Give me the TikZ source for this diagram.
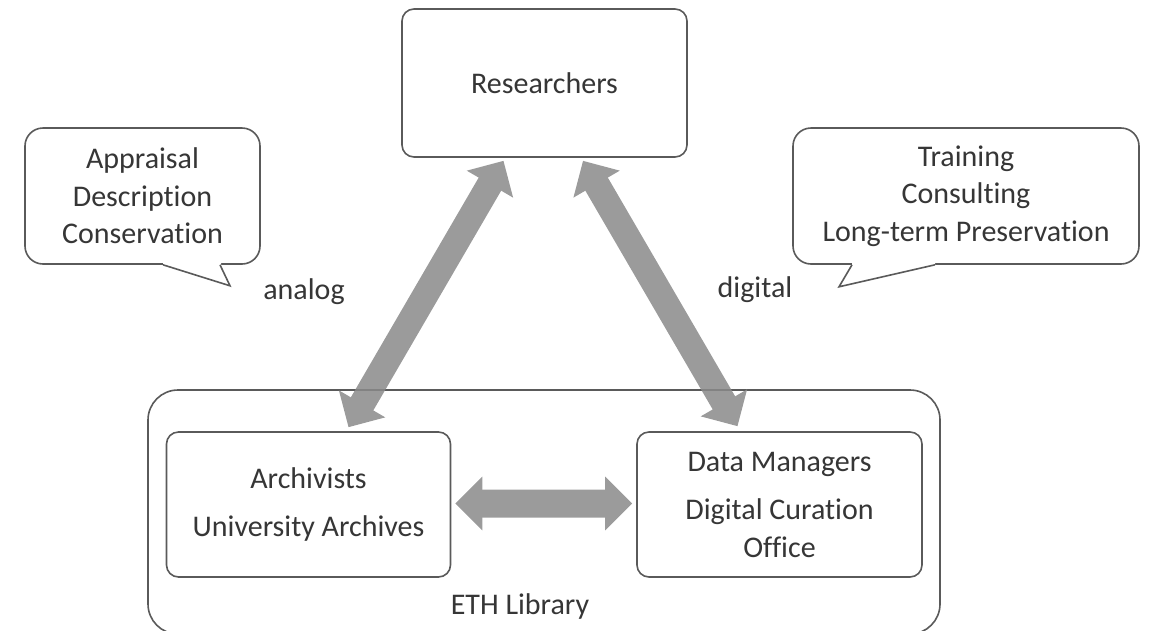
\documentclass[tikz,border=0pt]{standalone}
\usepackage{fontspec}
\setmainfont{Carlito}[Ligatures=NoCommon]
\usetikzlibrary{arrows.meta,calc}
\definecolor{linec}{HTML}{5A5A5A}
\definecolor{txtc}{HTML}{363636}
\definecolor{arrc}{HTML}{8A8A8A}
\tikzset{
  box/.style={draw=linec, line width=1.6pt, rounded corners=12pt, fill=white, align=center,
    text=txtc, font=\fontsize{30}{38}\selectfont, inner sep=0pt},
  bubble/.style={draw=linec, line width=1.6pt, rounded corners=18pt, fill=white, align=center,
    text=txtc, font=\fontsize{30}{37.5}\selectfont, inner sep=0pt},
  lbl/.style={text=txtc, font=\fontsize{30}{38}\selectfont, inner sep=0pt},
  bigarrow/.style={draw=arrc, line width=26pt,
    {Triangle[width=52pt,length=27pt]}-{Triangle[width=52pt,length=27pt]}},
}
\begin{document}
\begin{tikzpicture}[x=1pt,y=-1pt]
\useasboundingbox (0,0) rectangle (1150,630);
% ETH Library frame
\node[draw=linec, line width=1.6pt, rounded corners=30pt, minimum width=792pt, minimum height=244pt, inner sep=0pt] (eth) at (544,512) {};
\node[lbl] (ethl) at (520,606) {ETH Library};
% boxes
\node[box, minimum width=285pt, minimum height=148pt] (res) at (544.5,83) {Researchers};
\node[box, minimum width=284pt, minimum height=145pt] (arch) at (308.5,504.5) {Archivists\\[10pt]University Archives};
\node[box, minimum width=285pt, minimum height=145pt] (dm) at (779.5,504.5) {Data Managers\\[10pt]Digital Curation\\Office};
% bubbles
\node[bubble, minimum width=235pt, minimum height=136pt] (lb) at (142.5,196) {Appraisal\\Description\\Conservation};
\fill[white] (163,262) -- (163,266) -- (230,285) -- (221,266) -- (221,262) -- cycle;
\draw[linec, line width=1.6pt, line join=miter] ([xshift=20.5pt]lb.south) -- ([xshift=87.5pt,yshift=-21pt]lb.south) -- ([xshift=77.5pt]lb.south);
\node[bubble, minimum width=346pt, minimum height=136pt] (rb) at (966,196) {Training\\Consulting\\Long-term Preservation};
\fill[white] (852,262) -- (852,266) -- (839,286) -- (935,266) -- (935,262) -- cycle;
\draw[linec, line width=1.6pt, line join=miter] ([xshift=-114pt]rb.south) -- ([xshift=-127pt,yshift=-22pt]rb.south) -- ([xshift=-31pt]rb.south);
% labels
\node[lbl] (an) at (304,292) {analog};
\node[lbl] (di) at (755,290) {digital};
% arrows
\coordinate (a1) at ($(res.south)+(-41,3)$);
\coordinate (a2) at ($(arch.north)+(40,-4)$);
\coordinate (b1) at ($(res.south)+(38.5,3)$);
\coordinate (b2) at ($(dm.north)+(-42,-5)$);
\coordinate (c1) at ($(arch.east)+(4,-1)$);
\coordinate (c2) at ($(dm.west)+(-4,-1)$);
\begin{scope}[transparency group, opacity=0.85]
\draw[bigarrow] (a2) -- (a1);
\end{scope}
\begin{scope}[transparency group, opacity=0.85]
\draw[bigarrow] (b1) -- (b2);
\end{scope}
\begin{scope}[transparency group, opacity=0.85]
\draw[bigarrow, line width=28pt] (c1) -- (c2);
\end{scope}
\end{tikzpicture}
\end{document}
